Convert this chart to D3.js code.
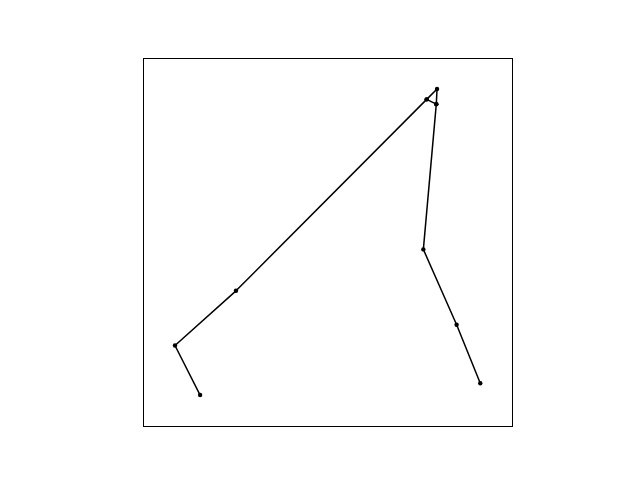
<!DOCTYPE html>
<html><head><meta charset="utf-8">
<script src="https://cdn.jsdelivr.net/npm/d3@7"></script>
<style>body{margin:0;background:#fff}</style>
</head><body>
<script>
const xs = [0.154, 0.086, 0.251, 0.767, 0.795, 0.793, 0.767, 0.793, 0.758, 0.848, 0.912];
const ys = [0.087, 0.221, 0.369, 0.887, 0.915, 0.874, 0.887, 0.874, 0.481, 0.277, 0.119];

const W = 640, H = 480;
const mLeft = 143.2, mRight = 512.8, mTop = 57.6, mBottom = 427.2;
const svg = d3.select("body").append("svg").attr("width", W).attr("height", H);
const x = d3.scaleLinear().domain([0, 1]).range([mLeft, mRight]);
const y = d3.scaleLinear().domain([0, 1]).range([mBottom, mTop]);
const data = xs.map((v, i) => [v, ys[i]]);

svg.append("path").datum(data)
  .attr("fill", "none").attr("stroke", "#000").attr("stroke-width", 1.5)
  .attr("stroke-linejoin", "round")
  .attr("d", d3.line().x(d => x(d[0])).y(d => y(d[1])));

svg.selectAll("circle").data(data).join("circle")
  .attr("cx", d => x(d[0])).attr("cy", d => y(d[1])).attr("r", 2.2).attr("fill", "#000");

svg.append("rect").attr("x", 143.5).attr("y", 58.5)
  .attr("width", 369).attr("height", 368)
  .attr("fill", "none").attr("stroke", "#000").attr("stroke-width", 1);
</script>
</body></html>
